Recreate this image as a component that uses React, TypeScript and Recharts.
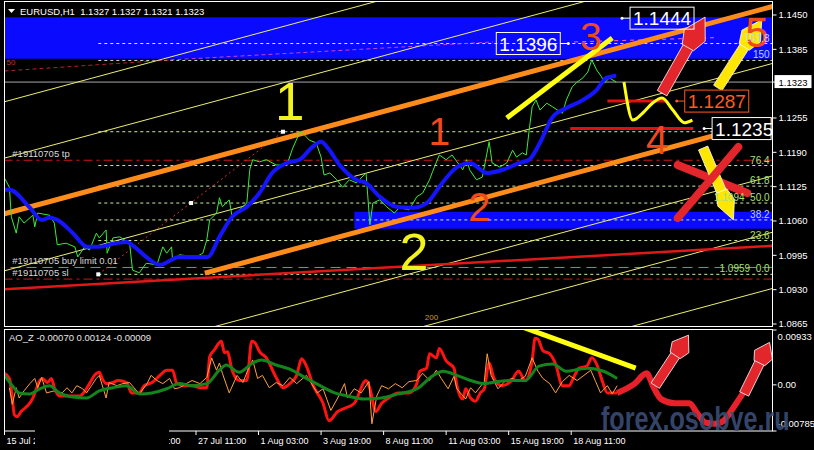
import React from "react";
import {
  ComposedChart,
  Line,
  XAxis,
  YAxis,
  ReferenceArea,
  ReferenceLine,
  ReferenceDot,
} from "recharts";

const FONT = "'Liberation Sans', Arial, sans-serif";

// x is the H1 bar number counted from the left edge of the window
const BAR_MAX = 786;
const PRICE_MIN = 1.08593;
const PRICE_MAX = 1.14765;
const AO_MIN = -0.00785;
const AO_MAX = 0.00933;

// ---- EURUSD H1 close ----
const priceBars = [
  0, 5, 7, 12, 15, 20, 29, 31, 34, 46, 51, 54, 63, 72, 75, 82, 87, 94, 97, 104,
  105, 111, 118, 123, 128, 131, 138, 145, 156, 162, 166, 171, 172, 179, 196, 203,
  207, 210, 217, 220, 223, 230, 233, 240, 248, 251, 254, 261, 268, 278, 289, 295,
  302, 305, 312, 319, 324, 327, 333, 340, 346, 353, 360, 370, 374, 377, 384, 391,
  399, 404, 414, 422, 428, 435, 438, 445, 452, 458, 464, 469, 473, 476, 483, 489,
  496, 499, 507, 514, 520, 524, 530, 534, 537, 540, 544, 548, 555, 561, 571, 575,
  581, 586, 592, 597, 601, 606, 611, 614, 619, 626,
];
const priceClose = [
  1.1141, 1.1124, 1.1068, 1.1037, 1.1068, 1.1056, 1.1071, 1.1049, 1.1075, 1.1071,
  1.1056, 1.1015, 1.1018, 1.1011, 1.0992, 1.1011, 1.1005, 1.1037, 1.1028, 1.1043,
  1.0999, 1.1028, 1.103, 1.1024, 1.1018, 1.0967, 1.0962, 1.098, 1.0977, 1.1011,
  1.0999, 1.1011, 1.0986, 1.0996, 1.0992, 1.0999, 1.1024, 1.1062, 1.1075, 1.1104,
  1.1087, 1.11, 1.1068, 1.1081, 1.1094, 1.1157, 1.1176, 1.1172, 1.1176, 1.1166,
  1.1166, 1.1198, 1.1227, 1.1227, 1.1213, 1.1208, 1.1181, 1.1147, 1.1151, 1.1138,
  1.1124, 1.1138, 1.1132, 1.1151, 1.1053, 1.1094, 1.11, 1.1087, 1.1075, 1.1085,
  1.1081, 1.1106, 1.1113, 1.1138, 1.1153, 1.1185, 1.1176, 1.1185, 1.117, 1.1157,
  1.1176, 1.1157, 1.1138, 1.1143, 1.121, 1.117, 1.1162, 1.117, 1.1194, 1.1181,
  1.1189, 1.1185, 1.1232, 1.1276, 1.1289, 1.127, 1.1283, 1.1276, 1.1264, 1.1289,
  1.1314, 1.1323, 1.1331, 1.1342, 1.1365, 1.1346, 1.1333, 1.1321, 1.1331, 1.1323,
];

// moving average
const maBars = [
  0, 5, 26, 38, 46, 54, 70, 85, 97, 111, 125, 133, 145, 159, 179, 200, 208, 220,
  233, 248, 261, 274, 289, 302, 315, 324, 331, 343, 360, 370, 384, 401, 418, 432,
  448, 463, 476, 494, 510, 527, 537, 548, 561, 575, 592, 606, 616, 626,
];
const maValues = [
  1.1119, 1.1119, 1.1085, 1.1062, 1.1066, 1.1062, 1.1037, 1.1011, 1.1011, 1.1017,
  1.102, 1.1011, 1.0992, 1.0977, 1.0992, 1.0992, 1.0992, 1.103, 1.1068, 1.1087,
  1.1113, 1.1151, 1.117, 1.1176, 1.12, 1.121, 1.1198, 1.1166, 1.1138, 1.1132,
  1.1106, 1.1087, 1.1085, 1.1094, 1.1132, 1.1162, 1.117, 1.1151, 1.1157, 1.117,
  1.1176, 1.1208, 1.1257, 1.1274, 1.1289, 1.1308, 1.1331, 1.1335,
];

const priceTicks = [1.145, 1.1385, 1.1323, 1.1255, 1.119, 1.1125, 1.106, 1.0995, 1.093, 1.0865];
const bidPrice = 1.1323;

// supply / demand zones [low, high, fromBar]
const topZone = [1.13673, 1.14456, 0];
const lowZone = [1.10453, 1.10777, 358];

// thin channel lines: price at bar 0 and at the last bar
const channelLeft = [1.12857, 1.11791, 1.09657, 1.07527, 1.06461, 1.05397];
const channelRight = [1.16783, 1.15717, 1.13583, 1.11453, 1.10387, 1.09323];
// orange channel borders
const orangeFromBar = [0, 205];
const orangeFrom = [1.10736, 1.09612];
const orangeTo = [1.14662, 1.12515];
// long red support
const supportFrom = 1.0931;
const supportTo = 1.1013;

// fibonacci grid
const fibFromBar = 96;
const fibPrices = [1.0959, 1.1023, 1.1062, 1.1094, 1.1126, 1.1165, 1.1229, 1.1364, 1.1396];
const fibLabels = ["1.0959  0.0", "23.6", "38.2", "1.1094  50.0", "61.8", "76.4", "", "150", "161.8"];
const fibAnchorBars = [96, 191, 285];
const fibAnchorPrices = [1.0959, 1.1094, 1.1229];

// pending order
const tpPrice = 1.1175;
const buyLimitPrice = 1.0972;
const slPrice = 1.095;

// forecast path
const projBars = [634, 643, 653, 663, 673, 684, 696, 704];
const projPrices = [1.1323, 1.1251, 1.1264, 1.1283, 1.1293, 1.127, 1.1246, 1.1251];

// ---- AO_Z ----
const aoBars = [
  0, 5, 8, 10, 13, 17, 23, 29, 33, 36, 39, 44, 48, 51, 56, 70, 77, 80, 87, 92, 97,
  100, 104, 111, 116, 125, 130, 138, 143, 151, 159, 166, 172, 176, 182, 192, 200,
  207, 210, 215, 222, 225, 228, 233, 240, 248, 253, 256, 261, 268, 278, 285, 292,
  299, 304, 309, 316, 326, 332, 341, 348, 358, 370, 374, 380, 386, 393, 403, 414,
  422, 425, 432, 435, 442, 445, 452, 460, 463, 469, 472, 477, 482, 487, 491, 496,
  501, 509, 519, 526, 533, 540, 543, 546, 551, 558, 564, 571, 578, 582, 588, 596,
  601, 606, 612, 617, 623, 627,
];
const aoValues = [
  0.00196, 0.00109, -0.00224, -0.00505, -0.0054, -0.00452, -0.00365, -0.00224,
  -0.00049, 0.00074, 0.00109, 0.00039, 0.00109, -0.00049, -0.00189, -0.00189,
  -0.00189, -0.00154, 0.00021, 0.00161, 0.00214, 0.00109, 0.00021, 0.00039,
  0.00074, 0.00039, -0.00137, -0.00137, -0.00014, 0.00039, 0.00161, 0.00249,
  0.00249, 0.00039, -0.00014, -0.00014, -0.00049, -0.00049, 0.00477, 0.006,
  0.0074, 0.00547, 0.00565, 0.00249, 0.00074, 0.00074, 0.0074, 0.00722, 0.00565,
  0.00459, 0.00126, -0.00049, 0.00021, 0.00161, 0.00442, 0.00319, -0.00014,
  -0.00312, -0.0061, -0.00452, -0.00399, -0.00312, 0.00074, -0.00067, -0.00452,
  -0.00312, -0.00224, -0.00137, -0.00137, 0.00021, 0.00231, 0.00284, 0.00529,
  0.00459, 0.00617, 0.00407, 0.00284, -0.00014, -0.00242, -0.00067, -0.00224,
  -0.00277, -0.00137, -0.00067, 0.00372, 0.00109, -0.00014, 0.00074, 0.00231,
  0.00074, 0.00407, 0.00792, 0.00775, 0.00582, 0.00529, 0.00354, -0.00014,
  -0.00014, 0.00109, 0.00284, 0.00319, 0.00459, 0.00354, 0.00056, -0.00137,
  -0.00137, -0.00137,
];
const aoFastBars = [
  5, 8, 12, 15, 20, 26, 31, 34, 38, 43, 51, 59, 64, 69, 74, 80, 84, 89, 94, 97,
  104, 107, 115, 121, 128, 138, 146, 150, 156, 162, 169, 174, 179, 186, 192, 200,
  207, 212, 217, 220, 223, 230, 238, 244, 249, 254, 259, 264, 271, 278, 285, 292,
  299, 309, 320, 326, 334, 341, 348, 351, 358, 365, 373, 376, 381, 386, 393, 400,
  407, 414, 422, 428, 435, 442, 447, 454, 460, 463, 472, 477, 482, 491, 494, 498,
  505, 512, 519, 526, 533, 540, 546, 551, 558, 564, 571, 578, 586, 593, 600, 605,
  610, 617, 622, 627,
];
const aoFastValues = [
  -0.00049, -0.0033, -0.00049, -0.00224, -0.00102, 0.00021, 0.00109, -0.00049,
  0.00126, -0.00137, -0.00102, -0.00137, -0.00049, -0.00137, -0.00014, -0.00067,
  -0.00137, -0.00014, 0.00109, 0.00161, -0.00224, 0.00039, -0.00014, 0.00021,
  0.00039, -0.00154, 0.00021, 0.00161, 0.00074, 0.00021, 0.00109, -0.00067,
  -0.00049, 0.00021, 0.00074, 0.00021, 0.00126, 0.00459, 0.00249, 0.00372,
  0.00196, -0.00137, 0.00161, 0.00039, 0.00249, 0.00424, 0.00109, 0.00161,
  -0.00049, 0.00039, -0.00014, 0.00126, 0.00021, 0.00161, -0.00137, -0.00067,
  -0.00435, -0.00224, 0.00021, -0.00224, -0.00067, -0.00137, 0.00056, -0.00663,
  -0.00189, -0.00014, -0.00067, 0.00021, -0.00049, 0.00056, 0.00074, 0.00196,
  0.00074, 0.00249, 0.00109, -0.00067, 0.00144, -0.00067, -0.00242, -0.00049,
  -0.00137, 0.00056, 0.00529, 0.00161, -0.00067, 0.00056, 0.00109, 0.00074,
  0.00144, 0.00459, 0.00231, 0.00109, 0.00021, -0.00137, 0.00056, 0.00161,
  0.00074, 0.00161, 0.00249, 0.00056, -0.00137, -0.00014, -0.00154, -0.00014,
];
const aoSignalBars = [
  0, 8, 15, 26, 36, 46, 56, 70, 84, 97, 111, 125, 138, 151, 166, 179, 192, 207,
  220, 227, 240, 254, 263, 278, 292, 309, 323, 338, 351, 368, 386, 403, 422, 439,
  449, 463, 477, 491, 505, 519, 533, 547, 561, 575, 588, 597, 613, 627,
];
const aoSignalValues = [
  0.00161, -0.00014, -0.00137, -0.00154, -0.00067, -0.00014, -0.00137, -0.00207,
  -0.00224, -0.00102, -0.00049, -0.00014, -0.00154, -0.00137, -0.00067, 0.00021,
  -0.00014, 0.00021, 0.00249, 0.00337, 0.00214, 0.00372, 0.00424, 0.00337,
  0.00266, 0.00109, -0.00014, -0.00137, -0.00189, -0.00242, -0.00224, -0.00154,
  -0.00067, 0.00161, 0.00231, 0.00161, 0.00074, 0.00021, 0.00056, 0.00074,
  0.00074, 0.00319, 0.00354, 0.00231, 0.00266, 0.00284, 0.00231, 0.00109,
];
// hand-drawn continuation of the oscillator
const waveBars = [627, 645, 657, 665, 672, 686, 701, 709, 718, 728, 736, 749, 756];
const waveValues = [
  -0.00137, 0.00021, 0.00196, -0.00067, -0.00242, -0.00312, -0.00312, -0.00487,
  -0.00645, -0.00663, -0.0061, -0.00312, -0.00137,
];

const xTickBars = [0, 128, 196, 260, 324, 388, 452, 516, 580];
const xTickLabels = [
  "15 Jul 2017", "25 Jul 19:00", "27 Jul 11:00", "1 Aug 03:00", "3 Aug 19:00",
  "8 Aug 11:00", "11 Aug 03:00", "15 Aug 19:00", "18 Aug 11:00",
];

const zip = (bars: number[], vals: number[]) => bars.map((bar, i) => ({ bar, v: vals[i] }));

const priceData = zip(priceBars, priceClose);
const maData = zip(maBars, maValues);
const projData = zip(projBars, projPrices);
const aoData = zip(aoBars, aoValues);
const aoFastData = zip(aoFastBars, aoFastValues);
const aoSignalData = zip(aoSignalBars, aoSignalValues);
const waveData = zip(waveBars, waveValues);

// ---------- shapes ----------

function PriceTick(props: any) {
  const { x, y, payload } = props;
  const v = payload.value as number;
  const bid = v === bidPrice;
  return (
    <g>
      <line x1={x} x2={x + 4} y1={y} y2={y} stroke="#fff" />
      {bid && <rect x={x + 2} y={y - 7} width={37} height={13} fill="#fff" />}
      <text x={x + 6} y={y + 3.5} fill={bid ? "#000" : "#fff"} fontSize={9.5} fontFamily={FONT}>
        {v.toFixed(4)}
      </text>
    </g>
  );
}

function AoTick(props: any) {
  const { x, y, payload } = props;
  const v = payload.value as number;
  const dy = v === AO_MAX ? 10 : v === AO_MIN ? -4 : 3.5;
  return (
    <g>
      <line x1={x} x2={x + 4} y1={y} y2={y} stroke="#fff" />
      <text x={x + 5} y={y + dy} fill="#fff" fontSize={9.5} fontFamily={FONT}>
        {v === 0 ? "0.00" : v.toFixed(5)}
      </text>
    </g>
  );
}

function TimeTick(props: any) {
  const { x, y, payload } = props;
  const label = xTickLabels[xTickBars.indexOf(payload.value)];
  return (
    <g>
      <line x1={x} x2={x} y1={y} y2={y + 4} stroke="#fff" />
      <text x={x + 2} y={y + 13} fill="#fff" fontSize={9} fontFamily={FONT}>
        {label}
      </text>
    </g>
  );
}

const bigDigit = (text: string, color: string, size: number) => (p: any) => (
  <text x={p.cx} y={p.cy + size * 0.36} textAnchor="middle" fill={color} fontSize={size} fontFamily={FONT}>
    {text}
  </text>
);

const smallText = (text: string, color: string, anchor: string, dy: number, size = 9) => (p: any) => (
  <text x={p.cx} y={p.cy + dy} textAnchor={anchor} fill={color} fontSize={size} fontFamily={FONT} style={{ whiteSpace: "pre" }}>
    {text}
  </text>
);

const priceTag = (text: string, color: string, side: "left" | "right", bg: string, w = 64) => (p: any) => {
  const { cx, cy } = p;
  const gap = 8;
  const bx = side === "right" ? cx + gap : cx - gap - w;
  const lx = side === "right" ? cx : cx - gap;
  return (
    <g>
      <line x1={lx} x2={lx + gap} y1={cy} y2={cy} stroke={color} />
      <circle cx={cx} cy={cy} r={1.5} fill={color} />
      <rect x={bx} y={cy - 11} width={w} height={22} fill={bg} stroke={color} />
      <text x={bx + 3} y={cy + 7} fill={color} fontSize={19} fontFamily={FONT}>
        {text}
      </text>
    </g>
  );
};

const squareMark = (p: any) => <rect x={p.cx - 2} y={p.cy - 2} width={4} height={4} fill="#fff" />;

const arrowShape = (fill: string, shaftW: number, headW: number) => (p: any) => {
  const { x1, y1, x2, y2 } = p;
  const len = Math.hypot(x2 - x1, y2 - y1);
  const ux = (x2 - x1) / len;
  const uy = (y2 - y1) / len;
  const pt = (t: number, s: number) => `${x1 + ux * len * t - uy * s},${y1 + uy * len * t + ux * s}`;
  const shaft = [pt(0, -shaftW / 2), pt(0.62, -shaftW / 2), pt(0.62, shaftW / 2), pt(0, shaftW / 2)].join(" ");
  const head = [
    pt(0.6, -shaftW / 2 - 1),
    pt(0.76, -headW / 2),
    pt(1, 0),
    pt(0.76, headW / 2),
    pt(0.6, shaftW / 2 + 1),
  ].join(" ");
  return (
    <g>
      <polygon points={shaft} fill={fill} stroke="#fff" strokeWidth={0.8} />
      <polygon points={head} fill={fill} stroke="#fff" strokeWidth={0.8} />
    </g>
  );
};

const brushStroke = (p: any) => (
  <line x1={p.x1} y1={p.y1} x2={p.x2} y2={p.y2} stroke="#e3262b" strokeWidth={8} strokeLinecap="round" />
);

// ---------- panels ----------

function PricePanel() {
  return (
    <ComposedChart width={814} height={328} margin={{ top: 1, right: 0, bottom: 1, left: 4.5 }}>
      <XAxis type="number" dataKey="bar" domain={[0, BAR_MAX]} hide allowDataOverflow />
      <YAxis
        orientation="right"
        type="number"
        width={41.5}
        domain={[PRICE_MIN, PRICE_MAX]}
        allowDataOverflow
        ticks={priceTicks}
        interval={0}
        tickSize={0}
        tickMargin={0}
        axisLine={false}
        tickLine={false}
        tick={(p: any) => <PriceTick {...p} />}
      />

      <ReferenceArea x1={topZone[2]} x2={BAR_MAX} y1={topZone[0]} y2={topZone[1]} fill="#0a0aff" fillOpacity={1} stroke="none" ifOverflow="hidden" />
      <ReferenceArea x1={lowZone[2]} x2={BAR_MAX} y1={lowZone[0]} y2={lowZone[1]} fill="#0a0aff" fillOpacity={1} stroke="none" ifOverflow="hidden" />

      {fibPrices.map((p, i) => (
        <ReferenceLine key={"fib" + i} segment={[{ x: fibFromBar, y: p }, { x: BAR_MAX, y: p }]} stroke="#cdeea0" strokeDasharray="3 3" ifOverflow="hidden" />
      ))}
      <ReferenceLine y={tpPrice} stroke="#d01818" strokeDasharray="9 4 3 4" ifOverflow="hidden" />
      <ReferenceLine y={slPrice} stroke="#d01818" strokeDasharray="9 4 3 4" ifOverflow="hidden" />
      <ReferenceLine y={buyLimitPrice} stroke="#3cc03c" strokeDasharray="10 6" ifOverflow="hidden" />
      <ReferenceLine y={bidPrice} stroke="#a8a8a8" ifOverflow="hidden" />

      <ReferenceLine segment={[{ x: 0, y: 1.1344 }, { x: 170, y: 1.1365 }]} stroke="#b02030" strokeDasharray="4 3" ifOverflow="hidden" />
      <ReferenceLine segment={[{ x: 170, y: 1.1365 }, { x: 500, y: 1.1399 }]} stroke="#c040e0" strokeDasharray="4 3" ifOverflow="hidden" />
      <ReferenceLine segment={[{ x: 583, y: 1.1399 }, { x: 726, y: 1.1407 }]} stroke="#ff60c0" strokeDasharray="4 4" ifOverflow="hidden" />
      <ReferenceLine segment={[{ x: fibAnchorBars[0], y: fibAnchorPrices[0] }, { x: fibAnchorBars[2], y: fibAnchorPrices[2] }]} stroke="#d03030" strokeDasharray="2 3" ifOverflow="hidden" />

      {channelLeft.map((p, i) => (
        <ReferenceLine key={"ch" + i} segment={[{ x: 0, y: p }, { x: BAR_MAX, y: channelRight[i] }]} stroke="#eeee70" strokeWidth={1} ifOverflow="hidden" />
      ))}
      <ReferenceLine segment={[{ x: 0, y: supportFrom }, { x: BAR_MAX, y: supportTo }]} stroke="#e01818" strokeWidth={2.5} ifOverflow="hidden" />
      {orangeFrom.map((p, i) => (
        <ReferenceLine key={"or" + i} segment={[{ x: orangeFromBar[i], y: p }, { x: BAR_MAX, y: orangeTo[i] }]} stroke="#ff8c1a" strokeWidth={5} ifOverflow="hidden" />
      ))}

      <Line data={priceData} dataKey="v" type="linear" stroke="#3bea3b" strokeWidth={1} dot={false} activeDot={false} isAnimationActive={false} />
      <Line data={maData} dataKey="v" type="monotone" stroke="#1414ff" strokeWidth={4} dot={false} activeDot={false} isAnimationActive={false} />

      {fibAnchorBars.map((b, i) => (
        <ReferenceDot key={"fa" + i} x={b} y={fibAnchorPrices[i]} r={2} shape={squareMark} ifOverflow="visible" />
      ))}

      {/* wave marks */}
      <ReferenceLine segment={[{ x: 514, y: 1.1255 }, { x: 622, y: 1.14065 }]} stroke="#ffff10" strokeWidth={5} ifOverflow="hidden" />
      <ReferenceLine segment={[{ x: 617, y: 1.1287 }, { x: 678, y: 1.1287 }]} stroke="#e01010" strokeWidth={3} ifOverflow="hidden" />
      <ReferenceLine segment={[{ x: 579, y: 1.1235 }, { x: 705, y: 1.1235 }]} stroke="#e01010" strokeWidth={3} ifOverflow="hidden" />
      <Line data={projData} dataKey="v" type="monotone" stroke="#ffff10" strokeWidth={3} dot={false} activeDot={false} isAnimationActive={false} />

      <ReferenceLine segment={[{ x: 689, y: 1.1166 }, { x: 760, y: 1.1113 }]} shape={brushStroke} ifOverflow="visible" />
      <ReferenceLine segment={[{ x: 715, y: 1.11982 }, { x: 746, y: 1.10619 }]} shape={arrowShape("#ffe600", 10, 18)} ifOverflow="visible" />
      <ReferenceLine segment={[{ x: 689, y: 1.10657 }, { x: 751, y: 1.12001 }]} shape={brushStroke} ifOverflow="visible" />
      <ReferenceLine segment={[{ x: 673, y: 1.1302 }, { x: 717, y: 1.1446 }]} shape={arrowShape("#e3262b", 11, 24)} ifOverflow="visible" />
      <ReferenceLine segment={[{ x: 730, y: 1.1312 }, { x: 775, y: 1.1441 }]} shape={arrowShape("#ffe600", 10, 22)} ifOverflow="visible" />

      <ReferenceDot x={292} y={1.12872} r={0} shape={bigDigit("1", "#f2f21e", 53)} ifOverflow="visible" />
      <ReferenceDot x={419} y={1.10033} r={0} shape={bigDigit("2", "#f2f21e", 52)} ifOverflow="visible" />
      <ReferenceDot x={445} y={1.12304} r={0} shape={bigDigit("1", "#f04a1c", 39)} ifOverflow="visible" />
      <ReferenceDot x={486} y={1.10865} r={0} shape={bigDigit("2", "#f04a1c", 40)} ifOverflow="visible" />
      <ReferenceDot x={600} y={1.14102} r={0} shape={bigDigit("3", "#f04a1c", 39)} ifOverflow="visible" />
      <ReferenceDot x={668} y={1.12134} r={0} shape={bigDigit("4", "#f04a1c", 40)} ifOverflow="visible" />
      <ReferenceDot x={770} y={1.14178} r={0} shape={bigDigit("5", "#f04a1c", 42)} ifOverflow="visible" />

      <ReferenceDot x={632} y={1.1444} r={0} shape={priceTag("1.1444", "#ffffff", "right", "none")} ifOverflow="visible" />
      <ReferenceDot x={577} y={1.1396} r={0} shape={priceTag("1.1396", "#ffffff", "left", "none")} ifOverflow="visible" />
      <ReferenceDot x={688} y={1.1287} r={0} shape={priceTag("1.1287", "#ff5a22", "right", "#000")} ifOverflow="visible" />
      <ReferenceDot x={716} y={1.1235} r={0} shape={priceTag("1.1235", "#ffffff", "right", "#000", 59)} ifOverflow="visible" />

      {fibPrices.map((p, i) =>
        fibLabels[i] ? (
          <ReferenceDot
            key={"fl" + i}
            x={783}
            y={p}
            r={0}
            shape={smallText(fibLabels[i], i === 2 || i >= 7 ? "#b8d0ff" : "#a6e07a", "end", -2, 10)}
            ifOverflow="visible"
          />
        ) : null
      )}
      <ReferenceDot x={8} y={tpPrice} r={0} shape={smallText("#19110705 tp", "#d8d8d8", "start", -3, 9.5)} ifOverflow="visible" />
      <ReferenceDot x={8} y={buyLimitPrice} r={0} shape={smallText("#19110705 buy limit 0.01", "#d8d8d8", "start", -3, 9.5)} ifOverflow="visible" />
      <ReferenceDot x={8} y={slPrice} r={0} shape={smallText("#19110705 sl", "#d8d8d8", "start", -3, 9.5)} ifOverflow="visible" />
      <ReferenceDot x={2} y={1.1361} r={0} shape={smallText("50", "#c03030", "start", 3, 8)} ifOverflow="visible" />
      <ReferenceDot x={437} y={1.08783} r={0} shape={smallText("200", "#c89a30", "middle", 3, 8)} ifOverflow="visible" />
    </ComposedChart>
  );
}

function OscillatorPanel() {
  return (
    <ComposedChart width={814} height={121} margin={{ top: 1, right: 0, bottom: 0, left: 4.5 }}>
      <XAxis
        type="number"
        dataKey="bar"
        domain={[0, BAR_MAX]}
        allowDataOverflow
        ticks={xTickBars}
        interval={0}
        height={19}
        tickSize={0}
        tickMargin={0}
        axisLine={false}
        tickLine={false}
        tick={(p: any) => <TimeTick {...p} />}
      />
      <YAxis
        orientation="right"
        type="number"
        width={41.5}
        domain={[AO_MIN, AO_MAX]}
        allowDataOverflow
        ticks={[AO_MAX, 0, AO_MIN]}
        interval={0}
        tickSize={0}
        tickMargin={0}
        axisLine={false}
        tickLine={false}
        tick={(p: any) => <AoTick {...p} />}
      />
      <Line data={aoData} dataKey="v" type="monotone" stroke="#ff1212" strokeWidth={3} dot={false} activeDot={false} isAnimationActive={false} />
      <Line data={aoFastData} dataKey="v" type="linear" stroke="#ffa040" strokeWidth={1} dot={false} activeDot={false} isAnimationActive={false} />
      <Line data={aoSignalData} dataKey="v" type="monotone" stroke="#14841c" strokeWidth={3} dot={false} activeDot={false} isAnimationActive={false} />
      <ReferenceLine segment={[{ x: 519, y: 0.0105 }, { x: 646, y: 0.00284 }]} stroke="#ffff10" strokeWidth={5} ifOverflow="visible" />
      <Line data={waveData} dataKey="v" type="monotone" stroke="#e8202a" strokeWidth={6} dot={false} activeDot={false} isAnimationActive={false} />
      <ReferenceLine segment={[{ x: 666, y: -0.00014 }, { x: 700, y: 0.00845 }]} shape={arrowShape("#e3262b", 10, 20)} ifOverflow="visible" />
      <ReferenceLine segment={[{ x: 757, y: -0.00154 }, { x: 783, y: 0.00722 }]} shape={arrowShape("#e3262b", 10, 20)} ifOverflow="visible" />
    </ComposedChart>
  );
}

export default function App() {
  return (
    <div style={{ position: "absolute", left: 0, top: 0, width: 814, height: 450, background: "#000", overflow: "hidden", fontFamily: FONT }}>
      <div style={{ position: "absolute", left: 0, top: 0 }}>
        <PricePanel />
      </div>
      <div style={{ position: "absolute", left: 0, top: 329 }}>
        <OscillatorPanel />
      </div>
      <svg width={814} height={450} style={{ position: "absolute", left: 0, top: 0, pointerEvents: "none" }}>
        <defs>
          <clipPath id="oscClip">
            <rect x={4.5} y={330} width={809} height={101} />
          </clipPath>
        </defs>
        <rect x={4.5} y={1.5} width={768} height={325} fill="none" stroke="#fff" />
        <rect x={4.5} y={329.5} width={768} height={101.5} fill="none" stroke="#fff" />
        <polygon points="8,9 15,9 11.5,13" fill="#fff" />
        <text x={20} y={14.5} fill="#fff" fontSize={9.5} fontFamily={FONT} style={{ whiteSpace: "pre" }}>
          EURUSD,H1  1.1327 1.1327 1.1321 1.1323
        </text>
        <text x={9} y={341} fill="#e6e6e6" fontSize={9.5} fontFamily={FONT} style={{ whiteSpace: "pre" }}>
          AO_Z -0.00070 0.00124 -0.00009
        </text>
        <rect x={35} y={430} width={134} height={20} fill="#000" />
        <g clipPath="url(#oscClip)">
          <text
            transform="translate(601,430) scale(0.74,1)"
            fill="#3c4e78"
            fillOpacity={0.9}
            fontSize={34}
            fontWeight="bold"
            fontFamily={FONT}
          >
            forex.osobye.ru
          </text>
        </g>
      </svg>
    </div>
  );
}
